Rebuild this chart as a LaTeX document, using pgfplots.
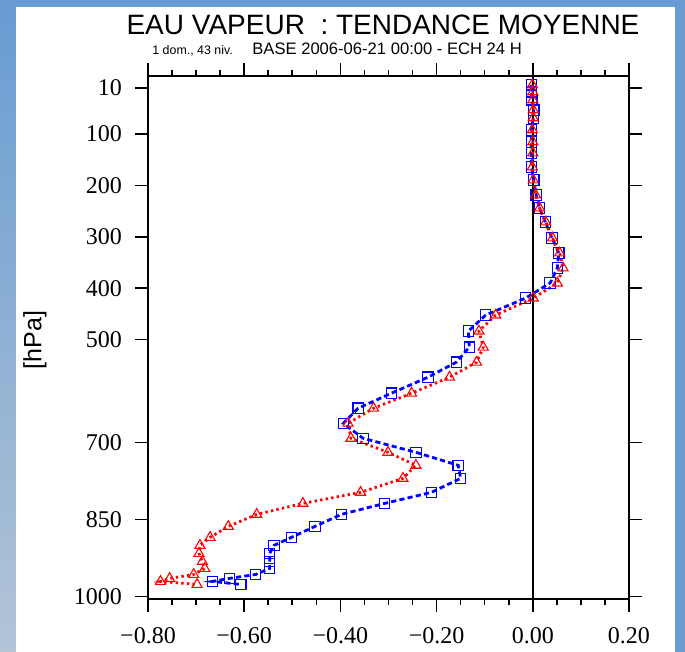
\documentclass[border=0pt]{standalone}
\usepackage{fontspec}
\setmainfont{Liberation Serif}
\newfontfamily\hv{Liberation Sans}
\usepackage{pgfplots}
\pgfplotsset{compat=1.18}

\definecolor{bgblue}{RGB}{104,156,210}
\definecolor{bgpale}{RGB}{178,196,214}

% blue: squares, red: triangles -- x = tendance, y = pression (hPa)
\pgfplotstableread{
x p
-0.003 4.2
-0.003 17.8
-0.002 33.4
0.002 52.9
0.001 68.5
-0.003 91.9
-0.003 115.2
-0.003 136.7
-0.003 164.0
0.002 189.3
0.007 218.6
0.014 243.9
0.026 271.2
0.040 302.4
0.054 331.6
0.051 360.8
0.036 390.1
-0.015 419.3
-0.098 452.4
-0.134 483.6
-0.132 514.8
-0.159 544.1
-0.218 573.3
-0.294 604.5
-0.363 633.7
-0.394 663.0
-0.353 692.2
-0.243 719.5
-0.155 744.8
-0.150 770.2
-0.211 797.5
-0.308 818.9
-0.398 840.3
-0.453 863.7
-0.502 885.1
-0.538 900.7
-0.547 916.3
-0.547 931.9
-0.547 945.5
-0.576 957.2
-0.631 965.0
-0.666 970.8
-0.607 976.7
}\bluedata

\pgfplotstableread{
x p
-0.001 4.2
0.000 17.8
0.000 33.4
0.001 52.9
0.001 68.5
-0.001 91.9
0.000 115.2
0.000 136.7
-0.001 164.0
0.001 189.3
0.006 218.6
0.014 243.9
0.027 271.2
0.041 302.4
0.056 331.6
0.063 360.8
0.051 390.1
0.001 419.3
-0.077 452.4
-0.112 483.6
-0.103 514.8
-0.117 544.1
-0.173 573.3
-0.252 604.5
-0.331 633.7
-0.384 663.0
-0.378 692.2
-0.301 719.5
-0.243 744.8
-0.270 770.2
-0.358 797.5
-0.478 818.9
-0.574 840.3
-0.633 863.7
-0.671 885.1
-0.692 900.7
-0.694 916.3
-0.687 931.9
-0.682 945.5
-0.705 957.2
-0.755 965.0
-0.774 970.8
-0.698 976.7
}\reddata

\begin{document}
\begin{tikzpicture}
% screenshot frame
\fill[bgblue] (0,0) rectangle (342.5pt,326pt);
\shade[top color=bgblue, bottom color=bgpale] (0,0) rectangle (8pt,326pt);
\fill[white] (8pt,0) rectangle (337.5pt,322.5pt);

\node[anchor=base, inner sep=0pt, font=\hv\fontsize{14}{14}\selectfont] at (191.5pt,308.5pt) {EAU VAPEUR~ : TENDANCE MOYENNE};
\node[anchor=base west, inner sep=0pt, font=\hv\fontsize{6.2}{6.2}\selectfont] at (76pt,298.5pt) {1 dom., 43 niv.};
\node[anchor=base west, inner sep=0pt, font=\hv\fontsize{8.3}{8.3}\selectfont] at (126pt,298.5pt) {BASE 2006-06-21 00:00 - ECH 24 H};
\node[rotate=90, inner sep=0pt, font=\hv\fontsize{12.5}{12.5}\selectfont] at (17.5pt,156pt) {[hPa]};

\begin{axis}[
    at={(74pt,26.5pt)}, anchor=south west,
    scale only axis,
    width=240.5pt, height=261.5pt,
    xmin=-0.8, xmax=0.2,
    ymin=-13, ymax=1005,
    y dir=reverse,
    xtick={-0.8,-0.6,-0.4,-0.2,0,0.2},
    xticklabels={−0.80,−0.60,−0.40,−0.20,0.00,0.20},
    minor x tick num=3,
    ytick={10,100,200,300,400,500,700,850,1000},
    yticklabels={10,100,200,300,400,500,700,850,1000},
    xtick pos=both, ytick pos=both,
    ticklabel pos=left,
    tick align=outside,
    major tick length=6.5pt,
    minor tick length=3pt,
    axis line style={line width=0.8pt},
    every tick/.style={black, line width=0.8pt},
    tick label style={font=\fontsize{12}{12}\selectfont},
    xticklabel style={yshift=-4pt},
    yticklabel style={xshift=-3pt},
    clip=false,
]

\addplot[black, line width=0.8pt, forget plot] coordinates {(0,-13) (0,1005)};

\addplot[blue, line width=1.4pt, dash pattern=on 2.6pt off 1.6pt,
    mark=square, mark size=2.6pt, mark options={solid, line width=0.55pt}]
    table[x=x, y=p] {\bluedata};

\addplot[red, line width=1.4pt, dash pattern=on 1.2pt off 1.6pt,
    mark=triangle, mark size=2.9pt, mark options={solid, line width=0.55pt}]
    table[x=x, y=p] {\reddata};

\end{axis}
\pgfresetboundingbox
\path[use as bounding box] (0,0) rectangle (342.5pt,326pt);
\end{tikzpicture}
\end{document}
